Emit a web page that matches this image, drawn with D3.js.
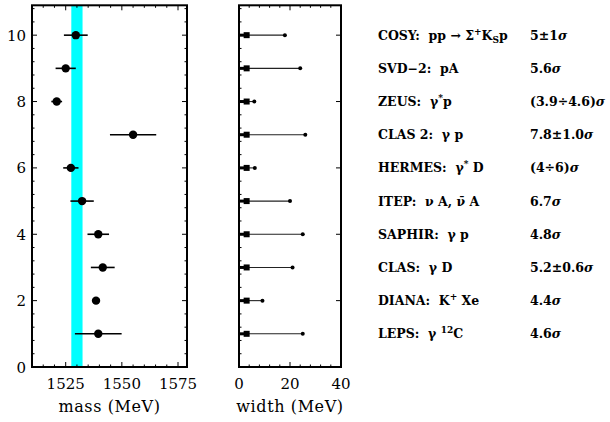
<!DOCTYPE html>
<html><head><meta charset="utf-8">
<script src="https://cdn.jsdelivr.net/npm/d3@7"></script>
<style>
body{margin:0;background:#fff;}
svg{display:block;}
text{font-family:"DejaVu Serif",serif;fill:#000;}
.lab{font-size:12.5px;font-weight:bold;white-space:pre;}
</style></head><body>
<svg id="c" width="610" height="422"></svg>
<script>
// ---- data ----
const rows = [10, 9, 8, 7, 6, 5, 4, 3, 2, 1];
const experiments = ["COSY", "SVD-2", "ZEUS", "CLAS 2", "HERMES", "ITEP", "SAPHIR", "CLAS", "DIANA", "LEPS"];
const mass =    [1529.5, 1525, 1521, 1555, 1527.3, 1532.3, 1539.5, 1541.5, 1538.5, 1539.5];
const massErr = [5.3, 4.5, 2.4, 10.3, 3.4, 5.2, 4.8, 5.3, 1.5, 10.4];
const widthLow = [3, 3, 3, 3, 3, 3, 3, 3, 3, 3];
const widthUp = [18, 24, 6, 26, 6.2, 20, 25, 21, 9.2, 25];
const significance = ["5±1σ", "5.6σ", "(3.9÷4.6)σ", "7.8±1.0σ", "(4÷6)σ", "6.7σ", "4.8σ", "5.2±0.6σ", "4.4σ", "4.6σ"];
const band = [1527.5, 1532.5];
const yTicks = [0, 2, 4, 6, 8, 10];
const massTicks = [1525, 1550, 1575];
const widthTicks = [0, 20, 40];

const svg = d3.select("#c");
const yTop = 5.3, yBot = 367;
const y = d3.scaleLinear().domain([0, 10.9]).range([yBot, yTop]);
const xm = d3.scaleLinear().domain([1510, 1579]).range([32, 187]);
const xw = d3.scaleLinear().domain([0, 40]).range([239, 341]);

function frame(x, opts) {
  const g = svg.append("g");
  const [x0, x1] = x.range();
  const xd = x.domain();
  const mk = (ticks, len, side) => {
    ticks.forEach(t => {
      if (side === "l" || side === "r") {
        const xx = side === "l" ? x0 : x1, d = side === "l" ? len : -len;
        g.append("line").attr("x1", xx).attr("x2", xx + d).attr("y1", y(t)).attr("y2", y(t))
          .attr("stroke", "#000").attr("stroke-width", 1);
      } else {
        const yy = side === "b" ? yBot : yTop, d = side === "b" ? -len : len;
        g.append("line").attr("x1", x(t)).attr("x2", x(t)).attr("y1", yy).attr("y2", yy + d)
          .attr("stroke", "#000").attr("stroke-width", 1);
      }
    });
  };
  const yMinor = d3.range(0, 10.9, 0.4).filter(v => Math.abs(v / 2 - Math.round(v / 2)) > 1e-6);
  mk(yMinor, 2.5, "l"); mk(yTicks, 5, "l");
  if (opts.rightMinor) mk(yMinor, 2.5, "r");
  mk(yTicks, 5, "r");
  const xMinor = d3.range(Math.ceil(xd[0] / opts.minor) * opts.minor, xd[1] + 1e-6, opts.minor)
    .filter(v => !opts.major.includes(v));
  mk(xMinor, 2.5, "b"); mk(xMinor, 2.5, "t");
  mk(opts.major, 5, "b"); mk(opts.major, 5, "t");
  return g;
}

// cyan band
svg.append("rect").attr("x", xm(band[0])).attr("width", xm(band[1]) - xm(band[0]))
  .attr("y", yTop).attr("height", yBot - yTop).attr("fill", "#00ffff");

frame(xm, {minor: 5, major: massTicks, rightMinor: true});
frame(xw, {minor: 4, major: widthTicks, rightMinor: false});

[xm, xw].forEach(x => {
  svg.append("rect").attr("x", x.range()[0]).attr("y", yTop)
    .attr("width", x.range()[1] - x.range()[0]).attr("height", yBot - yTop)
    .attr("fill", "none").attr("stroke", "#000").attr("stroke-width", 2);
});

// mass points
rows.forEach((r, i) => {
  svg.append("line").attr("x1", xm(mass[i] - massErr[i])).attr("x2", xm(mass[i] + massErr[i]))
    .attr("y1", y(r)).attr("y2", y(r)).attr("stroke", "#000").attr("stroke-width", 1.6);
  svg.append("circle").attr("cx", xm(mass[i])).attr("cy", y(r)).attr("r", 4.2).attr("fill", "#000");
});

// width marks
rows.forEach((r, i) => {
  svg.append("line").attr("x1", xw(widthLow[i])).attr("x2", xw(widthUp[i]))
    .attr("y1", y(r)).attr("y2", y(r)).attr("stroke", "#222").attr("stroke-width", 1.1);
  svg.append("line").attr("x1", xw(0)).attr("x2", xw(widthLow[i]))
    .attr("y1", y(r)).attr("y2", y(r)).attr("stroke", "#000").attr("stroke-width", 3);
  svg.append("rect").attr("x", xw(widthLow[i]) - 3).attr("y", y(r) - 3)
    .attr("width", 6).attr("height", 6).attr("fill", "#000");
  svg.append("circle").attr("cx", xw(widthUp[i])).attr("cy", y(r)).attr("r", 2).attr("fill", "#000");
});

// tick labels
yTicks.forEach(t => {
  svg.append("text").attr("x", 26).attr("y", y(t) + 5.5).attr("text-anchor", "end")
    .style("font-size", "15px").text(t);
});
massTicks.forEach(t => {
  svg.append("text").attr("x", xm(t)).attr("y", 389).attr("text-anchor", "middle")
    .style("font-size", "15px").text(t);
});
widthTicks.forEach(t => {
  svg.append("text").attr("x", xw(t)).attr("y", 389).attr("text-anchor", "middle")
    .style("font-size", "15px").text(t);
});
svg.append("text").attr("x", (xm.range()[0] + xm.range()[1]) / 2).attr("y", 412)
  .attr("text-anchor", "middle").style("font-size", "16px").style("letter-spacing", "0.6px").text("mass (MeV)");
svg.append("text").attr("x", (xw.range()[0] + xw.range()[1]) / 2).attr("y", 412)
  .attr("text-anchor", "middle").style("font-size", "16px").style("letter-spacing", "0.6px").text("width (MeV)");

// right labels with rich text
const rich = [
  [["COSY:  pp → Σ"], ["+", "sup"], ["K"], ["S", "sub"], ["p"]],
  [["SVD−2:  pA"]],
  [["ZEUS:  γ"], ["*", "sup"], ["p"]],
  [["CLAS 2:  γ p"]],
  [["HERMES:  γ"], ["*", "sup"], [" D"]],
  [["ITEP:  ν A, ν̄ A"]],
  [["SAPHIR:  γ p"]],
  [["CLAS:  γ D"]],
  [["DIANA:  K"], ["+", "sup"], [" Xe"]],
  [["LEPS:  γ "], ["12", "sup"], ["C"]]
];
rows.forEach((r, i) => {
  const t = svg.append("text").attr("class", "lab").attr("x", 378).attr("y", y(r) + 4.5);
  let shift = 0;
  rich[i].forEach(([s, k]) => {
    const ts = t.append("tspan").text(s);
    const want = k === "sup" ? -5 : k === "sub" ? 3 : 0;
    ts.attr("dy", want - shift);
    if (k) ts.style("font-size", "9px");
    shift = want;
  });
  const sig = significance[i];
  const t2 = svg.append("text").attr("class", "lab").attr("x", 530).attr("y", y(r) + 4.5);
  t2.append("tspan").text(sig.slice(0, -1));
  t2.append("tspan").style("font-style", "italic").text("σ");
});
</script>
</body></html>
